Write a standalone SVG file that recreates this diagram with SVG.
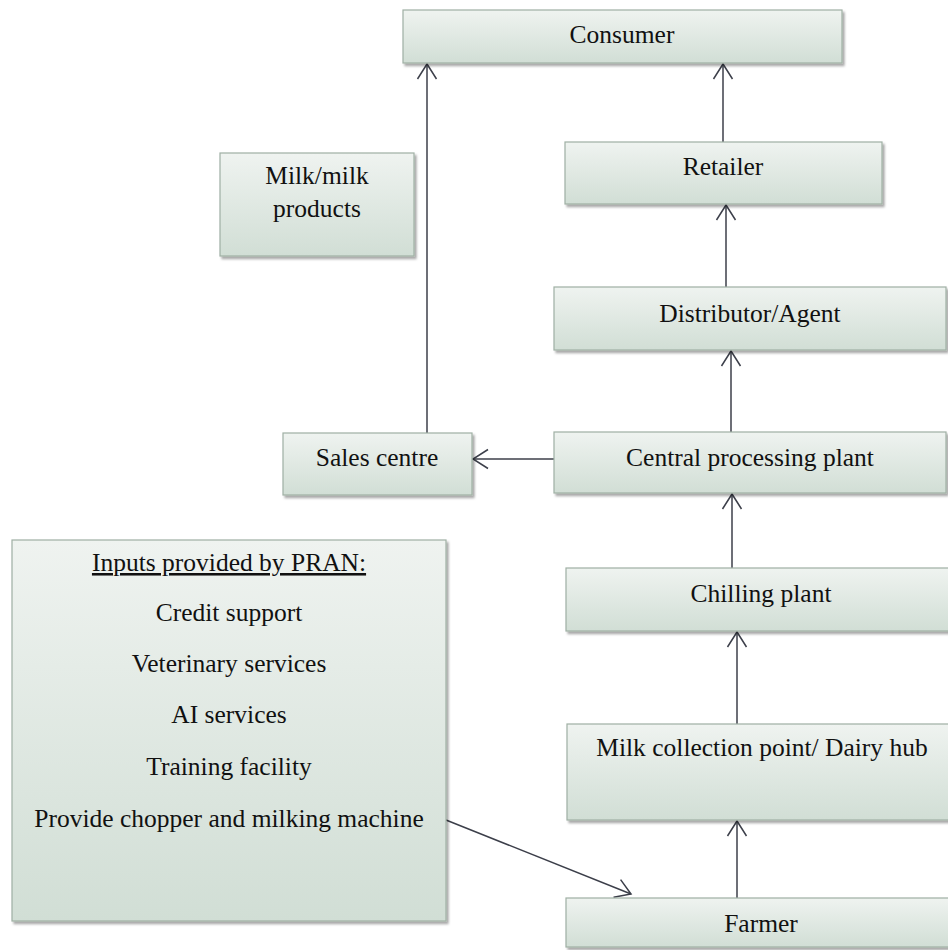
<svg xmlns="http://www.w3.org/2000/svg" width="948" height="950" viewBox="0 0 948 950">
<defs>
<linearGradient id="g" x1="0" y1="0" x2="0" y2="1">
<stop offset="0" stop-color="#eff3f0"/>
<stop offset="1" stop-color="#d1ded5"/>
</linearGradient>
<filter id="sh" x="-5%" y="-5%" width="115%" height="125%">
<feDropShadow dx="2" dy="2.5" stdDeviation="1.3" flood-color="#000" flood-opacity="0.35"/>
</filter>
<marker id="ah" markerUnits="userSpaceOnUse" markerWidth="20" markerHeight="24" viewBox="-17 -12 20 24" refX="0" refY="0" orient="auto">
<path d="M -15 -9.5 L 0 0 L -15 9.5" fill="none" stroke="#3c3f4a" stroke-width="1.5"/>
</marker>
<style>
.box{fill:url(#g);stroke:#9fb0a4;stroke-width:1.2;filter:url(#sh)}
.t{font-family:"Liberation Serif","Times New Roman",serif;font-size:25.5px;fill:#111;text-anchor:middle}
.c{fill:none;stroke:#3c3f4a;stroke-width:1.5;marker-end:url(#ah)}
</style>
</defs>
<rect width="948" height="950" fill="#fff"/>

<g id="connectors">
<line class="c" x1="427" y1="433" x2="427" y2="64"/>
<line class="c" x1="723" y1="142" x2="723" y2="64"/>
<line class="c" x1="726" y1="287" x2="726" y2="205"/>
<line class="c" x1="731" y1="432" x2="731" y2="351"/>
<line class="c" x1="554" y1="459" x2="473" y2="459"/>
<line class="c" x1="732" y1="568" x2="732" y2="494"/>
<line class="c" x1="737" y1="724" x2="737" y2="632"/>
<line class="c" x1="737" y1="898" x2="737" y2="821"/>
<line class="c" x1="446" y1="820" x2="631" y2="894"/>
</g>

<g id="consumer">
<rect class="box" x="403" y="10" width="439" height="53"/>
<text class="t" x="622" y="43">Consumer</text>
</g>
<g id="retailer">
<rect class="box" x="565" y="142" width="317" height="62"/>
<text class="t" x="723" y="175">Retailer</text>
</g>
<g id="milk-products">
<rect class="box" x="220" y="153" width="194" height="103"/>
<text class="t" x="317" y="184">Milk/milk</text>
<text class="t" x="317" y="217">products</text>
</g>
<g id="distributor">
<rect class="box" x="554" y="287" width="392" height="63"/>
<text class="t" x="750" y="322">Distributor/Agent</text>
</g>
<g id="sales-centre">
<rect class="box" x="283" y="433" width="189" height="62"/>
<text class="t" x="377" y="466">Sales centre</text>
</g>
<g id="central-plant">
<rect class="box" x="554" y="432" width="392" height="61"/>
<text class="t" x="750" y="466">Central processing plant</text>
</g>
<g id="inputs">
<rect class="box" x="12" y="540" width="434" height="381"/>
<text class="t" x="229" y="571" text-decoration="underline">Inputs provided by PRAN:</text>
<text class="t" x="229" y="621">Credit support</text>
<text class="t" x="229" y="672">Veterinary services</text>
<text class="t" x="229" y="723">AI services</text>
<text class="t" x="229" y="775">Training facility</text>
<text class="t" x="229" y="827">Provide chopper and milking machine</text>
</g>
<g id="chilling-plant">
<rect class="box" x="566" y="568" width="390" height="63"/>
<text class="t" x="761" y="602">Chilling plant</text>
</g>
<g id="collection-point">
<rect class="box" x="567" y="724" width="390" height="96"/>
<text class="t" x="762" y="756">Milk collection point/ Dairy hub</text>
</g>
<g id="farmer">
<rect class="box" x="566" y="898" width="390" height="49"/>
<text class="t" x="761" y="932">Farmer</text>
</g>
</svg>
